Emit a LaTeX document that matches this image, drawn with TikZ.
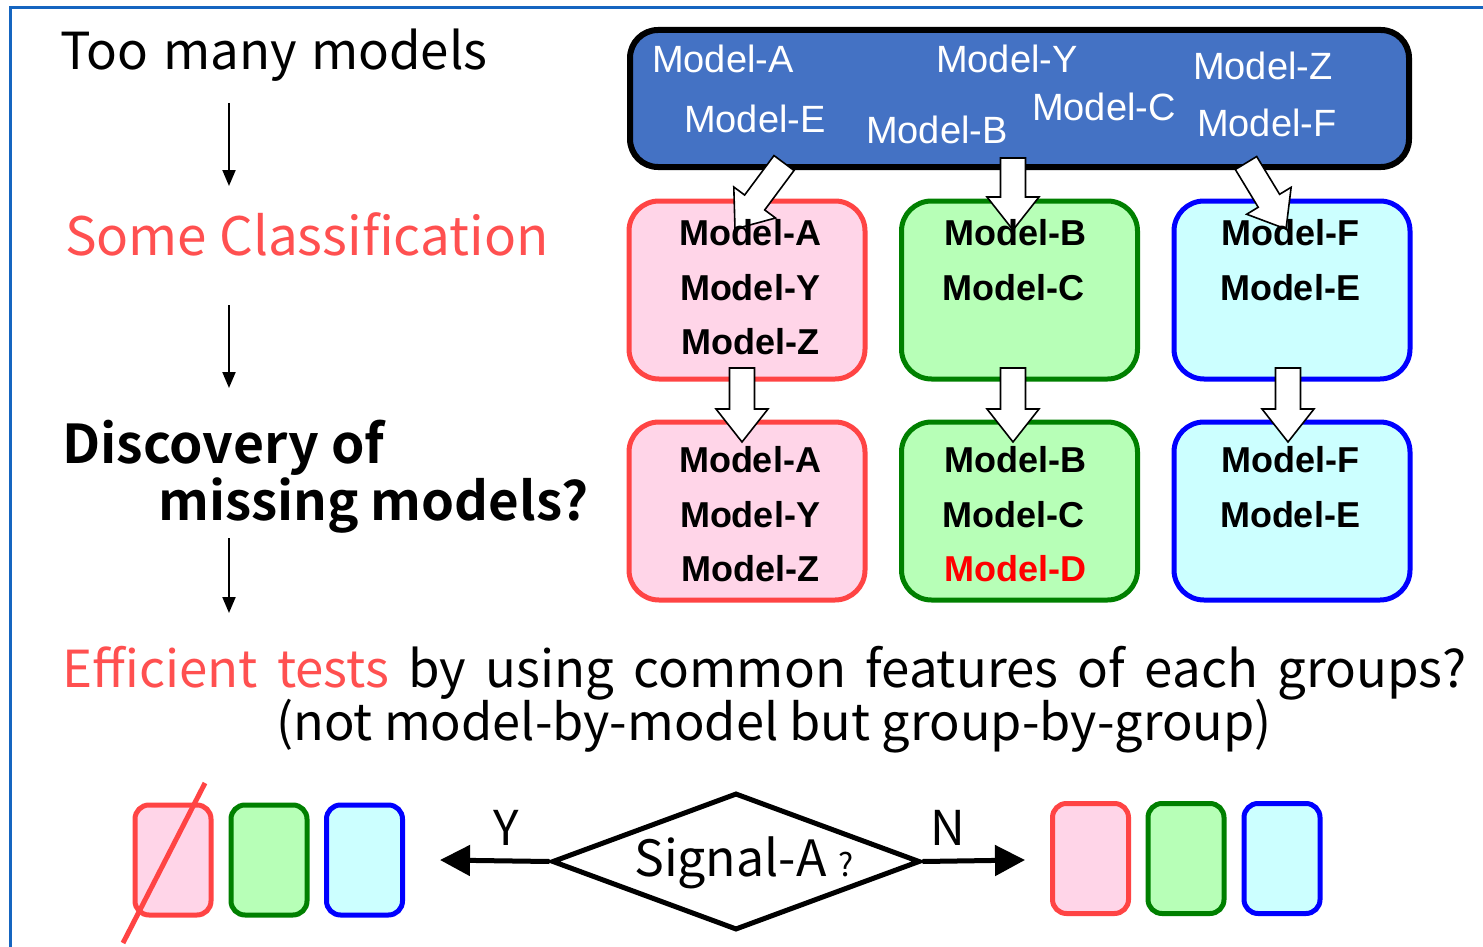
\documentclass[tikz,border=0pt]{standalone}
\usepackage{fontspec}
\setmainfont{Liberation Sans}
\newfontfamily\hira[BoldFont={Noto Sans CJK JP Bold}]{Noto Sans CJK JP}
\usetikzlibrary{calc,arrows.meta,shapes.geometric}
\definecolor{frameblue}{RGB}{21,101,192}
\definecolor{topfill}{RGB}{68,114,196}
\definecolor{pinkfill}{RGB}{255,213,232}
\definecolor{redline}{RGB}{255,68,68}
\definecolor{greenfill}{RGB}{183,255,183}
\definecolor{greenline}{RGB}{0,128,0}
\definecolor{cyanfill}{RGB}{204,255,255}
\definecolor{blueline}{RGB}{0,0,255}
\definecolor{redtext}{RGB}{255,80,80}
\newcommand\ws{\hspace{8pt} }
\tikzset{
  thinarr/.style={line width=2pt,-{Triangle[length=16pt,width=13pt]}},
  thickarr/.style={line width=5pt,-{Triangle[length=30pt,width=30pt]}},
  grp/.style={draw,line width=5pt,rounded corners=30pt,minimum width=236pt,minimum height=178pt,inner sep=0pt},
  mini/.style={draw,line width=5pt,rounded corners=14pt,minimum width=76pt,minimum height=110pt,inner sep=0pt},
  redg/.style={fill=pinkfill,draw=redline},
  greeng/.style={fill=greenfill,draw=greenline},
  blueg/.style={fill=cyanfill,draw=blueline},
  blk/.style={draw=black,fill=white,line width=1.6pt,line join=miter},
  mlab/.style={font=\fontsize{36}{40}\selectfont\bfseries,anchor=base,inner sep=0pt},
  tlab/.style={font=\fontsize{38}{42}\selectfont,text=white,anchor=base west,inner sep=0pt},
  head/.style={font=\hira\fontsize{51}{56}\selectfont,anchor=base west,inner sep=0pt},
}
\newcommand\blockarr[2]{%
  \path ($(#2)!33pt!(#1)$) coordinate (ab);
  \draw[blk] ($(#1)!12.5pt!90:(#2)$) -- ($(ab)!12.5pt!90:(#2)$) -- ($(ab)!26pt!90:(#2)$) -- (#2)
    -- ($(ab)!26pt!-90:(#2)$) -- ($(ab)!12.5pt!-90:(#2)$) -- ($(#1)!12.5pt!-90:(#2)$) -- cycle;}
\begin{document}
\begin{tikzpicture}[x=1pt,y=-1pt]
\useasboundingbox (0,0) rectangle (1483,947);
\fill[white] (0,0) rectangle (1483,947);
% frame
\draw[frameblue,line width=3pt] (10,949) -- (10,8) -- (1485,8);

% left column
\node[head] (t1) at (60,70) {Too\hspace{3pt} many\hspace{3pt} models};
\node[head,font=\hira\fontsize{53}{58}\selectfont,text=redtext] (t2) at (65,255) {Some Classification};
\node[head,font=\hira\bfseries\fontsize{53.5}{58}\selectfont] (t3) at (62,463) {Discovery of};
\node[head,font=\hira\bfseries\fontsize{52.8}{58}\selectfont] (t4) at (158,520) {missing models?};
\coordinate (a1s) at (229,103); \coordinate (a1e) at (229,186);
\coordinate (a2s) at (229,305); \coordinate (a2e) at (229,388);
\coordinate (a3s) at (229,538); \coordinate (a3e) at (229,613);
\draw[thinarr] (a1s) -- (a1e);
\draw[thinarr] (a2s) -- (a2e);
\draw[thinarr] (a3s) -- (a3e);

% top box
\node[draw=black,fill=topfill,line width=6pt,rounded corners=28pt,minimum width=779pt,minimum height=137pt] (top) at (1019.5,98.5) {};

% group boxes
\node[grp,redg] (r2) at (747,290) {};
\node[grp,greeng] (g2) at (1019.5,290) {};
\node[grp,blueg] (b2) at (1292,290) {};
\node[grp,redg] (r3) at (747,511) {};
\node[grp,greeng] (g3) at (1019.5,511) {};
\node[grp,blueg] (b3) at (1292,511) {};

% block arrows
\coordinate (s1) at (784,163); \coordinate (e1) at (735,229);
\coordinate (s2) at (1013,158); \coordinate (e2) at (1013,230);
\coordinate (s3) at (1246,163); \coordinate (e3) at (1286,229);
\coordinate (s4) at (742,368); \coordinate (e4) at (742,442);
\coordinate (s5) at (1013,368); \coordinate (e5) at (1013,442);
\coordinate (s6) at (1288,368); \coordinate (e6) at (1288,442);
\blockarr{s1}{e1}
\blockarr{s2}{e2}
\blockarr{s3}{e3}
\blockarr{s4}{e4}
\blockarr{s5}{e5}
\blockarr{s6}{e6}

% top labels
\node[tlab] (tA) at (652,73) {Model-A};
\node[tlab] (tY) at (936,73) {Model-Y};
\node[tlab] (tZ) at (1193,80) {Model-Z};
\node[tlab] (tE) at (684,133) {Model-E};
\node[tlab] (tB) at (866,143) {Model-B};
\node[tlab] (tC) at (1032,121) {Model-C};
\node[tlab] (tF) at (1197,136) {Model-F};

% group labels
\node[mlab] (r2a) at (750,245) {Model-A};
\node[mlab] (r2b) at (750,300) {Model-Y};
\node[mlab] (r2c) at (750,354) {Model-Z};
\node[mlab] (g2a) at (1015,245) {Model-B};
\node[mlab] (g2b) at (1013,300) {Model-C};
\node[mlab] (b2a) at (1290,245) {Model-F};
\node[mlab] (b2b) at (1290,300) {Model-E};
\node[mlab] (r3a) at (750,472) {Model-A};
\node[mlab] (r3b) at (750,527) {Model-Y};
\node[mlab] (r3c) at (750,581) {Model-Z};
\node[mlab] (g3a) at (1015,472) {Model-B};
\node[mlab] (g3b) at (1013,527) {Model-C};
\node[mlab,text=red] (g3c) at (1015,581) {Model-D};
\node[mlab] (b3a) at (1290,472) {Model-F};
\node[mlab] (b3b) at (1290,527) {Model-E};

% efficient tests text
\node[head] (e1t) at (62,687) {\textcolor{redtext}{Efficient\ws tests}\ws by\ws using\ws common\ws features\ws of\ws each\ws groups?};
\node[head,anchor=base,font=\hira\fontsize{50.5}{56}\selectfont] (e2t) at (774,740) {(not model-by-model but group-by-group)};

% bottom
\node[mini,redg] (m1) at (173,860) {};
\node[mini,greeng] (m2) at (269,860) {};
\node[mini,blueg] (m3) at (364.5,860) {};
\node[mini,redg] (n1) at (1090.5,858.5) {};
\node[mini,greeng] (n2) at (1186,858.5) {};
\node[mini,blueg] (n3) at (1282,858.5) {};
\coordinate (x1) at (205,783); \coordinate (x2) at (123,943);
\draw[redline,line width=5pt] (x1) -- (x2);

\node[diamond,draw=black,line width=5pt,minimum width=368pt,minimum height=137pt,aspect=2.69,inner sep=0pt] (dia) at (736,861.5) {};
\node[anchor=base west,inner sep=0pt,font=\hira\fontsize{50}{54}\selectfont] (sig) at (634,876) {Signal-A\hspace{12pt}{\fontsize{32}{36}\selectfont ?}};
\coordinate (ytip) at (440,860);
\coordinate (ntip) at (1025,860);
\draw[thickarr] (dia.west) -- (ytip);
\draw[thickarr] (dia.east) -- (ntip);
\node[head,anchor=base,font=\hira\fontsize{48}{52}\selectfont] (ly) at (506,845) {Y};
\node[head,anchor=base,font=\hira\fontsize{48}{52}\selectfont] (ln) at (948,845) {N};
\end{tikzpicture}
\end{document}
